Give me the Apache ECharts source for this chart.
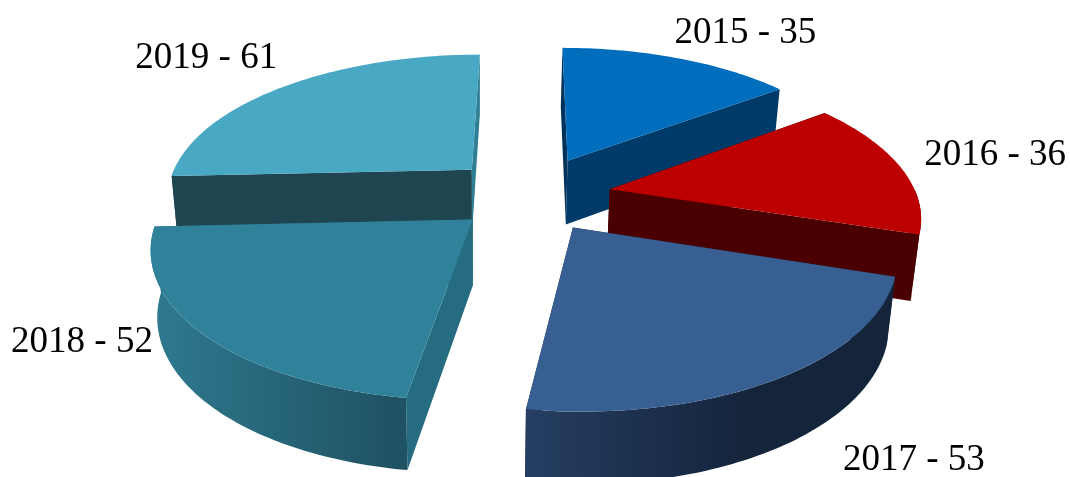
<!DOCTYPE html>
<html>
<head>
<meta charset="utf-8">
<style>html,body{margin:0;padding:0;background:#fff;overflow:hidden}#c{width:1070px;height:477px}</style>
<script src="https://cdn.jsdelivr.net/npm/echarts@6/dist/echarts.min.js"></script>
</head>
<body>
<div id="c"></div>
<script>
// Data
const years = ['2015', '2016', '2017', '2018', '2019'];
const counts = [35, 36, 53, 52, 61];

// Style
const topColors = ['#006dbd', '#bc0000', '#375f91', '#30829b', '#49a8c4'];
const startWall = ['#00335c', '#3a0000', '#1a2c47', '#266c80', '#1f4550'];
const endWall = ['#003a69', '#4a0000', '#1a2c47', '#266c80', '#2f7f95'];
const rimLeft = ['#003a69', '#4a0000', '#253e62', '#2f7a90', '#1f4550'];
const rimRight = ['#003a69', '#4a0000', '#14243b', '#1f5263', '#1f4550'];
const rimStop = [0.6, 0.6, 0.6, 0.95, 0.6];
const drawOrder = [0, 4, 1, 3, 2];
const labelOffsets = [[67, -25], [94.9, -12], [136.9, 81.5], [-119.3, 9], [-77.4, -28]];
const explodes = [0.285, 0.265, 0.255, 0.245, 0.27];

// Projection parameters
const cx = 530, cy = 195.5, A = 307, B = 142, k = 0.165;
const depth = 65, taper = 0.98, taperX = 480;

const total = counts.reduce((a, b) => a + b, 0);
const starts = [];
counts.reduce((acc, v, i) => { starts[i] = acc; return acc + v; }, 0);

function project(X, Y, low) {
  const w = 1 / (1 + k * Y);
  const sx = cx + A * X * w, sy = cy - B * Y * w;
  return low ? [taperX + (sx - taperX) * taper, sy + depth * Math.sqrt(w)] : [sx, sy];
}

function renderItem(params, api) {
  const i = api.value(1);
  const a0 = starts[i] / total * 2 * Math.PI;
  const a1 = (starts[i] + api.value(0)) / total * 2 * Math.PI;
  const m = (a0 + a1) / 2;
  const ex = explodes[i] * Math.sin(m), ey = explodes[i] * Math.cos(m);
  const rim = (t, low) => project(ex + Math.sin(t), ey + Math.cos(t), low);
  const arc = (t0, t1, low) => {
    const n = Math.max(2, Math.ceil((t1 - t0) / 0.02));
    const pts = [];
    for (let j = 0; j <= n; j++) pts.push(rim(t0 + (t1 - t0) * j / n, low));
    return pts;
  };
  const apex = project(ex, ey, false), apexLow = project(ex, ey, true);
  const children = [];
  const poly = (points, fill) => children.push({
    type: 'polygon', shape: { points }, silent: true,
    style: { fill, stroke: null }
  });
  // cut faces
  poly([apex, rim(a0, false), rim(a0, true), apexLow], startWall[i]);
  poly([apex, rim(a1, false), rim(a1, true), apexLow], endWall[i]);
  // outer curved wall (front-facing part only)
  const f0 = Math.max(a0, Math.PI / 2), f1 = Math.min(a1, 3 * Math.PI / 2);
  if (f1 > f0) {
    const up = arc(f0, f1, false), lo = arc(f0, f1, true).reverse();
    const fill = new echarts.graphic.LinearGradient(0, 0, 1, 0, [
      { offset: 0, color: rimLeft[i] },
      { offset: rimStop[i], color: rimRight[i] },
      { offset: 1, color: rimRight[i] }
    ]);
    poly(up.concat(lo), fill);
  }
  // top face
  poly([apex].concat(arc(a0, a1, false)), topColors[i]);
  // label
  const mid = rim(m, false);
  children.push({
    type: 'text', silent: true,
    style: {
      text: years[i] + ' - ' + api.value(0),
      x: mid[0] + labelOffsets[i][0], y: mid[1] + labelOffsets[i][1],
      align: 'center', verticalAlign: 'middle',
      font: '37px "Liberation Serif"', fill: '#000'
    }
  });
  return { type: 'group', children };
}

const chart = echarts.init(document.getElementById('c'), null, { renderer: 'canvas' });
chart.setOption({
  animation: false,
  backgroundColor: '#fff',
  series: [{
    type: 'custom',
    coordinateSystem: 'none',
    renderItem,
    clip: false,
    data: drawOrder.map(i => ({ name: years[i], value: [counts[i], i] }))
  }]
});
</script>
</body>
</html>
